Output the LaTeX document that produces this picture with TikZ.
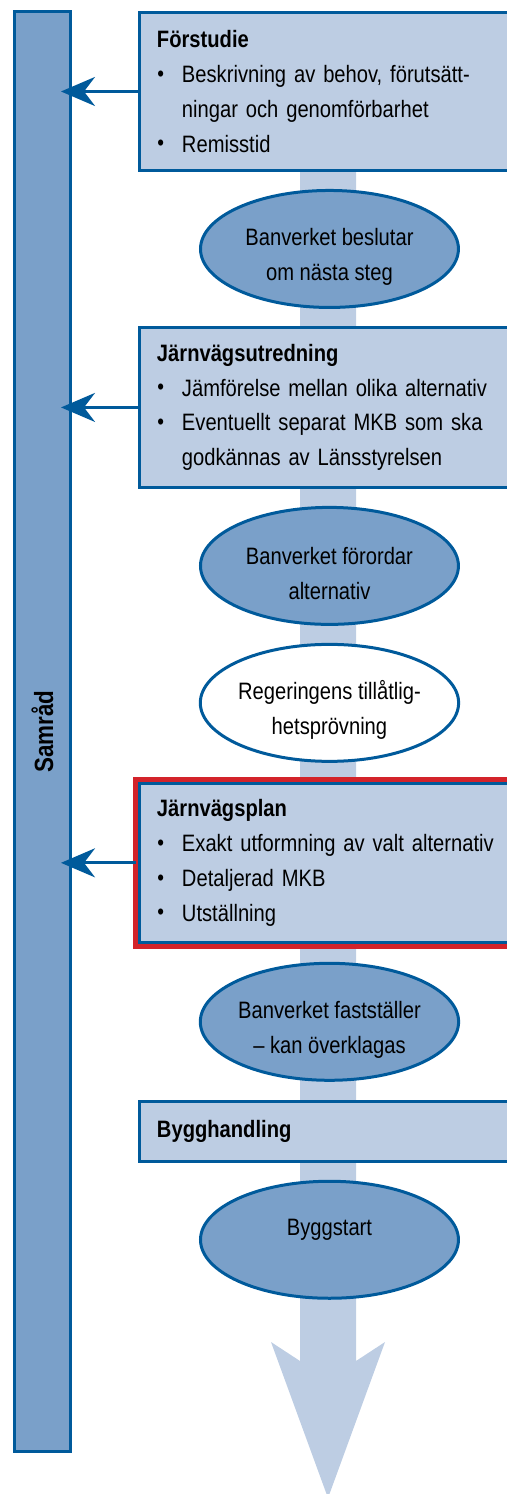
\documentclass[tikz,border=0pt]{standalone}
\usepackage{fontspec}
\setmainfont[FakeStretch=0.85]{Liberation Sans}
\usepackage{graphicx}
\usetikzlibrary{positioning, shapes.geometric, arrows.meta, fit}

\definecolor{kantbla}{RGB}{0,90,155}
\definecolor{mellanbla}{RGB}{122,160,201}
\definecolor{ljusbla}{RGB}{189,205,227}
\definecolor{markrod}{RGB}{211,35,42}

\newcommand{\punkt}{\makebox[0.5cm][l]{\hspace{0.01cm}\raisebox{0.05em}{\scalebox{0.95}{\textbullet}}}}

\begin{document}
\begin{tikzpicture}[x=0.02cm, y=-0.02cm, node distance=0.4cm,
  every node/.style={font=\fontsize{13.5}{19.8}\selectfont, outer sep=0pt, text=black},
  balk/.style={draw=kantbla, line width=0.06cm, fill=mellanbla, minimum width=1.12cm, minimum height=28.8cm, inner sep=0pt},
  skede/.style={draw=kantbla, line width=0.06cm, fill=ljusbla, text width=6.9cm, align=left, inner xsep=0.35cm, inner ysep=0pt},
  beslut/.style={draw=kantbla, line width=0.06cm, fill=mellanbla, ellipse, minimum width=5.16cm, minimum height=2.34cm, inner sep=0pt, align=center},
  tvarad/.style={text height=1.36cm},
  vitbeslut/.style={beslut, fill=white},
  vald/.style={draw=markrod, line width=0.1cm, inner sep=0.08cm},
  pil/.style={draw=kantbla, line width=0.06cm, -{Stealth[length=0.68cm, width=0.58cm, inset=0.22cm]}, shorten >=-0.19cm},
  flode/.style={fill=ljusbla}
]
\useasboundingbox (0,0) rectangle (507,1494);
\clip (0,0) rectangle (507,1494);

% Flow arrow behind everything
\fill[flode] (300,100) -- (300,1361) -- (271,1342) -- (328,1498) -- (385,1342) -- (356,1361) -- (356,100) -- cycle;

% Samråd
\node[balk] (samrad) at (42.5,731.5) {\rotatebox{90}{\fontsize{15}{18}\selectfont\textbf{Samråd}}};

% Steps
\node[skede, minimum height=3.16cm, anchor=north west] (forstudie) at (139.5,12.5) {\textbf{Förstudie}\\
  \punkt Beskrivning av behov, förutsätt-\\
  \hspace*{0.5cm}ningar och genomförbarhet\\
  \punkt Remisstid};
\node[beslut, tvarad, below=of forstudie] (beslutar) {Banverket beslutar\\om nästa steg};
\node[skede, minimum height=3.2cm, below=of beslutar] (utredning) {\textbf{Järnvägsutredning}\\
  \punkt Jämförelse mellan olika alternativ\\
  \punkt Eventuellt separat MKB som ska\\
  \hspace*{0.5cm}godkännas av Länsstyrelsen};
\node[beslut, tvarad, below=of utredning] (forordar) {Banverket förordar\\alternativ};
\node[vitbeslut, tvarad, below=of forordar] (provning) {Regeringens tillåtlig-\\hetsprövning};
\node[skede, minimum height=3.18cm, below=0.44cm of provning] (plan) {\textbf{Järnvägsplan}\\
  \punkt Exakt utformning av valt alternativ\\
  \punkt Detaljerad MKB\\
  \punkt Utställning};
\node[vald, fit=(plan)] (markering) {};
\node[beslut, tvarad, below=0.42cm of plan] (faststaller) {Banverket fastställer\\– kan överklagas};
\node[skede, minimum height=1.2cm, below=0.42cm of faststaller] (bygghandling) {\textbf{Bygghandling}};
\node[beslut, text depth=0.48cm, below=of bygghandling] (byggstart) {Byggstart};

% Arrows to Samråd
\draw[pil] (forstudie.west) -- (forstudie.west -| samrad.east);
\draw[pil] (utredning.west) -- (utredning.west -| samrad.east);
\draw[pil] (markering.west) -- (markering.west -| samrad.east);

\end{tikzpicture}
\end{document}
